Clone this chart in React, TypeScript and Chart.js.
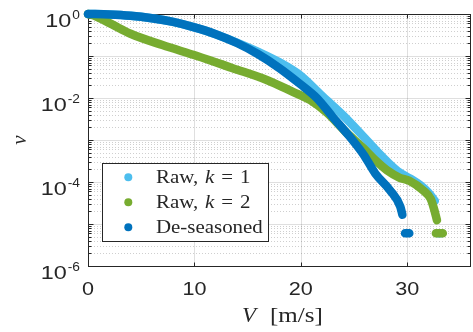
import React, { useEffect, useRef } from "react";
import { Chart, registerables } from "chart.js";

Chart.register(...registerables);

const W = 473;
const H = 332;

const COLORS = ["#4DBEEE", "#77AC30", "#0072BD"];
const LABELS = ["Raw, k = 1", "Raw, k = 2", "De-seasoned"];

// Raw, k = 1 (light blue)
const raw1V = [0, 2, 4, 6, 8, 10, 12, 14, 16, 18, 20, 22, 24, 26, 27.5, 29.1, 30.3, 31.2, 32, 32.6, null, 32.9, 33.2];
const raw1Nu = [1, 0.977, 0.912, 0.794, 0.646, 0.479, 0.331, 0.209, 0.126, 0.0708, 0.0339, 0.0112, 0.0038, 0.00112, 4.37e-4, 1.82e-4, 1.2e-4, 8.5e-5, 5.6e-5, 3.55e-5, null, 6.0e-6, 6.0e-6];

// Raw, k = 2 (green)
const raw2V = [0, 0.5, 1.1, 2.35, 4, 7, 10.25, 13.6, 16.8, 19.3, 20.9, 22.5, 24.2, 25.9, 27, 28.1, 29.3, 30.2, 31.5, 32.2, 32.5, 32.8, null, 32.7, 33.35];
const raw2Nu = [1, 0.933, 0.794, 0.55, 0.339, 0.182, 0.1, 0.0513, 0.0269, 0.0138, 0.0089, 0.00437, 0.00158, 6.3e-4, 3.3e-4, 1.9e-4, 1.26e-4, 1.07e-4, 6.3e-5, 4.0e-5, 2.4e-5, 1.23e-5, null, 6.0e-6, 6.0e-6];

// De-seasoned (dark blue)
const deseasV = [0, 2, 4, 6, 8, 10, 12, 14, 16, 18, 20, 21.5, 23, 24.6, 25.9, 27, 28.4, 29.35, 29.55, null, 29.8, 30.2];
const deseasNu = [1, 0.977, 0.912, 0.794, 0.646, 0.479, 0.331, 0.204, 0.11, 0.0513, 0.0209, 0.01, 0.00355, 0.0012, 4.5e-4, 1.6e-4, 6.3e-5, 2.6e-5, 1.66e-5, null, 6.0e-6, 6.0e-6];

const X_TICKS = [0, 10, 20, 30];
const Y_LABEL_EXPONENTS = [0, -2, -4, -6];
const Y_DECADES = [0, -1, -2, -3, -4, -5, -6];
const X_MIN = 0;
const X_MAX = 36;
const Y_MIN = 1e-6;
const Y_MAX = 1;
const X_TITLE_VAR = "V";
const X_TITLE_UNIT = "[m/s]";
const Y_TITLE = "ν";

const AXIS_COLOR = "#262626";
const SANS = "'Liberation Sans', Arial, sans-serif";
const SERIF = "'Liberation Serif', 'Times New Roman', serif";

function drawStretched(ctx: CanvasRenderingContext2D, text: string, x: number, y: number, font: string, align: string, sx: number) {
  ctx.save();
  ctx.font = font;
  const w = ctx.measureText(text).width * sx;
  const left = align === "center" ? x - w / 2 : align === "right" ? x - w : x;
  ctx.translate(left, y);
  ctx.scale(sx, 1);
  ctx.textAlign = "left";
  ctx.textBaseline = "alphabetic";
  ctx.fillText(text, 0, 0);
  ctx.restore();
  return w;
}

function measure(ctx: CanvasRenderingContext2D, text: string, font: string, sx: number) {
  ctx.save();
  ctx.font = font;
  const w = ctx.measureText(text).width * sx;
  ctx.restore();
  return w;
}

const axesPlugin = {
  id: "matlabAxes",
  beforeDatasetsDraw(chart: any) {
    const { ctx, chartArea: a, scales } = chart;
    const xs = scales.x;
    const ys = scales.y;
    ctx.save();
    // minor grid (dotted)
    ctx.lineWidth = 1;
    ctx.strokeStyle = "rgba(38,38,38,0.22)";
    ctx.setLineDash([1, 2]);
    for (const k of Y_DECADES) {
      if (k === 0) continue;
      for (let m = 2; m <= 9; m++) {
        const y = Math.round(ys.getPixelForValue(m * Math.pow(10, k))) + 0.5;
        ctx.beginPath();
        ctx.moveTo(a.left, y);
        ctx.lineTo(a.right, y);
        ctx.stroke();
      }
    }
    ctx.setLineDash([]);
    // major grid
    ctx.strokeStyle = "rgba(38,38,38,0.15)";
    for (const k of Y_DECADES) {
      const y = Math.round(ys.getPixelForValue(Math.pow(10, k))) + 0.5;
      ctx.beginPath();
      ctx.moveTo(a.left, y);
      ctx.lineTo(a.right, y);
      ctx.stroke();
    }
    for (const v of X_TICKS) {
      const x = Math.round(xs.getPixelForValue(v)) + 0.5;
      ctx.beginPath();
      ctx.moveTo(x, a.top);
      ctx.lineTo(x, a.bottom);
      ctx.stroke();
    }
    // frame
    ctx.strokeStyle = AXIS_COLOR;
    ctx.lineWidth = 1;
    const L = Math.round(a.left) + 0.5;
    const R = Math.round(a.right) - 0.5;
    const T = Math.round(a.top) + 0.5;
    const B = Math.round(a.bottom) + 0.5;
    ctx.strokeRect(L, T, R - L, B - T);
    // x ticks (inward)
    for (const v of X_TICKS) {
      const x = Math.round(xs.getPixelForValue(v)) + 0.5;
      ctx.beginPath();
      ctx.moveTo(x, B);
      ctx.lineTo(x, B - 4);
      ctx.moveTo(x, T);
      ctx.lineTo(x, T + 4);
      ctx.stroke();
    }
    // y ticks (inward), major + minor
    for (const k of Y_DECADES) {
      for (let m = 1; m <= 9; m++) {
        if (k === 0 && m > 1) continue;
        const y = Math.round(ys.getPixelForValue(m * Math.pow(10, k))) + 0.5;
        const len = m === 1 ? 5 : 3;
        ctx.beginPath();
        ctx.moveTo(L, y);
        ctx.lineTo(L + len, y);
        ctx.moveTo(R, y);
        ctx.lineTo(R - len, y);
        ctx.stroke();
      }
    }
    ctx.restore();
  },
  afterDraw(chart: any) {
    const { ctx, chartArea: a, scales } = chart;
    const xs = scales.x;
    const ys = scales.y;
    ctx.save();
    ctx.fillStyle = AXIS_COLOR;
    // x tick labels
    const tickFont = `18px ${SANS}`;
    for (const v of X_TICKS) {
      drawStretched(ctx, String(v), xs.getPixelForValue(v), a.bottom + 29, tickFont, "center", 1.2);
    }
    // y tick labels 10^k
    const supFont = `12.5px ${SANS}`;
    for (const k of Y_LABEL_EXPONENTS) {
      const y = ys.getPixelForValue(Math.pow(10, k));
      const exp = k === 0 ? "0" : "-" + String(-k);
      const supW = measure(ctx, exp, supFont, 1.1);
      const supRight = a.left - 8;
      drawStretched(ctx, exp, supRight - supW, y + 4.5, supFont, "left", 1.1);
      drawStretched(ctx, "10", supRight - supW - 1, y + 12.5, tickFont, "right", 1.3);
    }
    // x axis title
    const cx = (a.left + a.right) / 2;
    const titleFont = `20px ${SERIF}`;
    drawStretched(ctx, X_TITLE_VAR, cx - 37.5, a.bottom + 55.5, `italic ${titleFont}`, "left", 1.15);
    drawStretched(ctx, X_TITLE_UNIT, cx - 9.5, a.bottom + 55.5, titleFont, "left", 1.25);
    // y axis title
    ctx.save();
    ctx.translate(25.5, (a.top + a.bottom) / 2);
    ctx.rotate(-Math.PI / 2);
    ctx.font = `italic 21px ${SERIF}`;
    ctx.textAlign = "center";
    ctx.textBaseline = "alphabetic";
    ctx.fillText(Y_TITLE, 0, 0);
    ctx.restore();

    // legend
    const lx = 102, ly = 163, lw = 167, lh = 79;
    ctx.fillStyle = "#ffffff";
    ctx.fillRect(lx, ly, lw, lh);
    ctx.strokeStyle = AXIS_COLOR;
    ctx.lineWidth = 1;
    ctx.strokeRect(lx + 0.5, ly + 0.5, lw - 1, lh - 1);
    const legFont = `19px ${SERIF}`;
    const sx = 1.1;
    chart.data.datasets.forEach((ds: any, i: number) => {
      const ry = ly + 14.3 + i * 25;
      ctx.fillStyle = ds.borderColor;
      ctx.beginPath();
      ctx.arc(lx + 26.3, ry, 4, 0, Math.PI * 2);
      ctx.fill();
      ctx.fillStyle = AXIS_COLOR;
      let x = lx + 54;
      const tokens = String(ds.label).split(" ");
      tokens.forEach((t: string, j: number) => {
        const italic = /^[a-z]$/.test(t);
        const f = (italic ? "italic " : "") + legFont;
        const w = drawStretched(ctx, t, x, ry + 6, f, "left", sx);
        x += w + (j < tokens.length - 1 ? 19 * 0.33 * sx : 0);
      });
    });
    ctx.restore();
  },
};

function makeDataset(label: string, vs: (number | null)[], nus: (number | null)[], color: string, order: number) {
  return {
    label,
    data: vs.map((v, i) => ({ x: v, y: nus[i] })),
    showLine: true,
    borderColor: color,
    backgroundColor: color,
    borderWidth: 8.5,
    borderCapStyle: "round",
    borderJoinStyle: "round",
    pointRadius: 0,
    pointHoverRadius: 0,
    cubicInterpolationMode: "monotone",
    spanGaps: false,
    clip: false,
    order,
  };
}

export default function App() {
  const ref = useRef<HTMLCanvasElement>(null);
  useEffect(() => {
    const chart = new Chart(ref.current as HTMLCanvasElement, {
      type: "scatter",
      data: {
        datasets: [
          makeDataset(LABELS[0], raw1V, raw1Nu, COLORS[0], 3),
          makeDataset(LABELS[1], raw2V, raw2Nu, COLORS[1], 2),
          makeDataset(LABELS[2], deseasV, deseasNu, COLORS[2], 1),
        ] as any,
      },
      options: {
        animation: false,
        responsive: false,
        maintainAspectRatio: false,
        devicePixelRatio: 1,
        events: [],
        layout: { padding: { left: 88, top: 14, right: 2, bottom: 66 } },
        scales: {
          x: { type: "linear", min: X_MIN, max: X_MAX, display: false },
          y: { type: "logarithmic", min: Y_MIN, max: Y_MAX, display: false },
        },
        plugins: { legend: { display: false }, tooltip: { enabled: false } },
      } as any,
      plugins: [axesPlugin as any],
    });
    return () => chart.destroy();
  }, []);
  return (
    <div style={{ position: "fixed", left: 0, top: 0, width: W, height: H, background: "#ffffff" }}>
      <canvas ref={ref} width={W} height={H} style={{ display: "block", width: W, height: H }} />
    </div>
  );
}
